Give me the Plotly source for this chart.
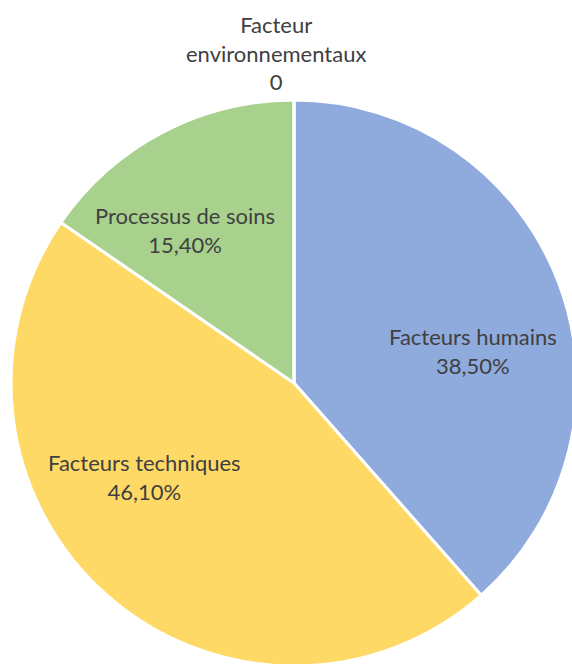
import plotly.graph_objects as go

W, H = 580, 680  # slightly larger than the window so the pie bleeds off the right/bottom edges

categories = ["Facteurs humains", "Facteurs techniques", "Processus de soins", "Facteur environnementaux"]
values = [38.5, 46.1, 15.4, 0.0]
value_labels = ["38,50%", "46,10%", "15,40%", "0"]
label_lines = ["Facteurs humains", "Facteurs techniques", "Processus de soins", "Facteur<br>environnementaux"]
colors = ["#8FAADC", "#FFD966", "#A9D18E", "#C9C9C9"]

# label centers in pixel space (x, y from top)
label_pos = [(473, 351), (144, 477), (185, 230), (276, 53)]

# pie: center (294, 383), radius 283 in pixels
cx, cy, r = 294, 383, 283
fig = go.Figure(go.Pie(
    labels=categories,
    values=values,
    sort=False,
    direction="clockwise",
    rotation=0,
    marker=dict(colors=colors, line=dict(color="white", width=3)),
    textinfo="none",
    hoverinfo="label+percent",
    showlegend=False,
    domain=dict(x=[(cx - r) / W, (cx + r) / W], y=[1 - (cy + r) / H, 1 - (cy - r) / H]),
))

for lab, val, (px, py) in zip(label_lines, value_labels, label_pos):
    fig.add_annotation(
        x=px / W, y=1 - py / H, xref="paper", yref="paper",
        text=f"{lab}<br>{val}", showarrow=False,
        xanchor="center", yanchor="middle", align="center",
        font=dict(family="Lato, Open Sans, sans-serif", size=22, color="#404040"),
    )

fig.update_layout(
    width=W, height=H,
    margin=dict(l=0, r=0, t=0, b=0),
    paper_bgcolor="white", plot_bgcolor="white",
)

fig.write_html(
    "out.html",
    config={"displayModeBar": False},
    post_script="document.body.style.margin='0';document.body.style.overflow='hidden';"
                "document.documentElement.style.overflow='hidden';",
)
